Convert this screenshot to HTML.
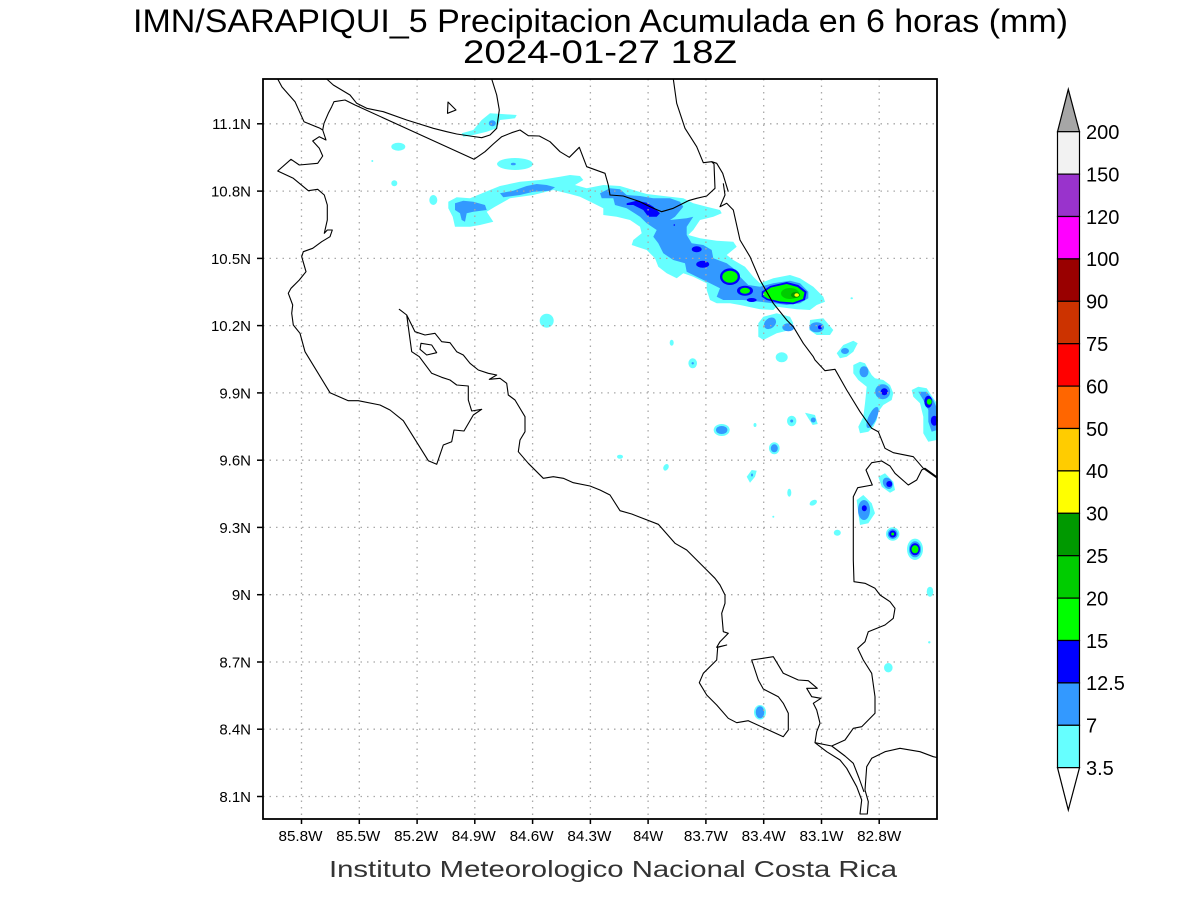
<!DOCTYPE html>
<html><head><meta charset="utf-8"><style>
html,body{margin:0;padding:0;background:#fff;}
svg{display:block;}
text{font-family:"Liberation Sans",sans-serif;}
</style></head><body>
<svg width="1200" height="900" viewBox="0 0 1200 900" xmlns="http://www.w3.org/2000/svg">
<rect width="1200" height="900" fill="#fff"/>
<!-- Title -->
<text x="133" y="32" font-size="32" textLength="935" lengthAdjust="spacingAndGlyphs" fill="#000">IMN/SARAPIQUI_5 Precipitacion Acumulada en 6 horas (mm)</text>
<text x="463" y="63" font-size="32" textLength="274" lengthAdjust="spacingAndGlyphs" fill="#000">2024-01-27 18Z</text>

<!-- shading -->
<g stroke="none">
<!-- cyan -->
<g fill="#66ffff">
<polygon points="448.3,201.7 456.7,197.3 470,198.3 490,190 500,186 520,181.7 540,180 560,176.7 570,175 580,176 583.3,180 575,185 586.7,188.3 603.3,185 620,186 633.3,190 646.7,194 670,196.7 683.3,198.3 693.3,203.3 706.7,206.7 720,210 721.7,213.3 713.3,216.7 700,220 693.3,230 688.3,235 700,238.3 716.7,240.7 733.3,241.7 736.7,246.7 726.7,255 733.3,260 745,266.7 753.3,276.7 760,283.3 773.3,278.3 790,275 800,278.3 813.3,286.7 823.3,296.7 825,301.7 816.7,305 810,310 796.7,309.3 776.7,306.7 773.3,310 760,309.3 740,305 730,303.3 716.7,303.3 710,300 706.7,290 706.7,283.3 693.3,276.7 683.3,273.3 676.7,278.3 666.7,273.3 658.3,266.7 655,258.3 646.7,250 631.7,245 633.3,240 641.7,233.3 640,226.7 630,220 616.7,216.7 603.3,215 603.3,208.3 593.3,203.3 580,196.7 570,194 553.3,190 533.3,195 510,198.3 495,206.7 486.7,211.7 493.3,221.7 480,225 470,226.7 455,226.7 452.7,216.7 448.3,208.3"/>
<polygon points="461.7,133.3 473.3,130 481.7,120 490,113.3 501.7,114 516.7,115 515,118.3 500,120 496.7,128.3 486.7,131.7 473.3,135 463.3,136.7"/>
<ellipse cx="398.3" cy="146.7" rx="7" ry="4"/>
<ellipse cx="515" cy="164" rx="18" ry="6"/>
<ellipse cx="372.3" cy="161" rx="1" ry="1"/>
<ellipse cx="394.3" cy="183.3" rx="3" ry="3"/>
<ellipse cx="433.3" cy="200" rx="4" ry="5"/>
<ellipse cx="546.7" cy="320.7" rx="7" ry="7"/>
<polygon points="758.3,323.3 763.3,316.7 776.7,313.3 790,316.7 793.3,323.3 790,330 776.7,333.3 763.3,340 758.3,336.7"/>
<polygon points="810,320 823.3,318.3 833.3,330 830,335 816.7,335 809.3,330"/>
<polygon points="836.7,353.3 843.3,345 853.3,340.7 857.7,343.3 853.3,351.7 846.7,356.7 840,358.3"/>
<ellipse cx="781.7" cy="357.3" rx="6" ry="5"/>
<ellipse cx="692.7" cy="363.3" rx="4.3" ry="5"/>
<ellipse cx="671.7" cy="342.7" rx="2" ry="3"/>
<ellipse cx="851.7" cy="298.3" rx="1.2" ry="1"/>
<polygon points="853.3,365 860,361.7 865,363.3 871.7,375 875,378.3 883.3,380 890,385 893.3,393.3 891.7,400 883.3,405 878.3,411.7 876.7,420 873.3,426.7 868.3,431.7 860,433.3 858.3,426.7 863.3,416.7 865,403.3 866.7,386.7 858.3,380 853.3,373.3"/>
<polygon points="911.7,390 918.3,386.7 926.7,388.3 933.3,398.3 937,403.3 937,440 928.3,441.7 923.3,433.3 923.3,416.7 920,403.3 913.3,396.7"/>
<ellipse cx="721.7" cy="430" rx="8" ry="6"/>
<ellipse cx="755" cy="425" rx="1.5" ry="2"/>
<ellipse cx="791.7" cy="421" rx="4.7" ry="5.3"/>
<polygon points="805,412.7 815,415 817.7,424 812.7,425 808.3,418.3"/>
<ellipse cx="774.3" cy="448.3" rx="5.3" ry="6"/>
<polygon points="746.7,476.7 751.7,470 756.7,470.7 755,476.7 750,482.7"/>
<ellipse cx="620" cy="456.7" rx="3" ry="2"/>
<ellipse cx="666" cy="467.3" rx="2.5" ry="3.5" transform="rotate(30 666 467.3)"/>
<ellipse cx="789.3" cy="492.7" rx="2" ry="4"/>
<ellipse cx="813.3" cy="502.7" rx="4" ry="2.5" transform="rotate(-30 813.3 502.7)"/>
<ellipse cx="773.3" cy="516.7" rx="1" ry="1"/>
<ellipse cx="837.3" cy="532.7" rx="3.5" ry="3"/>
<polygon points="878.3,476.7 885,473.3 893.3,481.7 895,490 890,492.7 881.7,486.7"/>
<polygon points="856.7,500 863.3,495 871.7,503.3 875,513.3 868.3,523.3 860,525 858.3,513.3"/>
<ellipse cx="892.7" cy="534" rx="6.7" ry="6.7"/>
<ellipse cx="915" cy="549.3" rx="8" ry="10.7"/>
<ellipse cx="930" cy="591.7" rx="3.3" ry="5"/>
<ellipse cx="929.3" cy="642.3" rx="1.2" ry="1.2"/>
<ellipse cx="888.3" cy="667.7" rx="4.3" ry="4.7"/>
<ellipse cx="760" cy="712.3" rx="6" ry="7.3"/>
</g>
<!-- blue 7-12.5 -->
<g fill="#3399ff">
<ellipse cx="492.3" cy="123.3" rx="3.5" ry="3"/>
<ellipse cx="513.3" cy="164" rx="2.5" ry="1.3"/>
<polygon points="455,203.3 463.3,200.7 473.3,201.7 485,205 486.7,210 473.3,211.7 466.7,213.3 465,221.7 461.7,220 460,213.3 455,210"/>
<polygon points="500,193.3 513.3,190.7 526.7,186 536.7,184 546.7,185 555,187.3 550,190.7 533.3,191.7 520,195 503.3,197.3"/>
<polygon points="600,193.3 610,188.3 620,189.3 626.7,195 640,196 653.3,198.3 670,198.3 680,201.7 683.3,206.7 675,216.7 670,220 686.7,218.3 693.3,216.7 686.7,226.7 686.7,235 691.7,243.3 703.3,245 711.7,250 713.3,258.3 726.7,263.3 733.3,268.3 740,276.7 748.3,285 760,286.7 773.3,283.3 790,280.7 800,283.3 808.3,291.7 808.3,298.3 800,303.3 786.7,305 773.3,303.3 760,301.7 743.3,300 723.3,300 716.7,296.7 720,288.3 710,283.3 696.7,276.7 686.7,271.7 685,263.3 673.3,260 663.3,253.3 658.3,243.3 653.3,236.7 656.7,230 646.7,223.3 640,216.7 626.7,208.3 615,205 613.3,198.3 601.7,198.3"/>
<ellipse cx="770" cy="323.3" rx="6.7" ry="5" transform="rotate(-40 770 323.3)"/>
<ellipse cx="788.3" cy="327.3" rx="6" ry="4"/>
<ellipse cx="816.7" cy="327.3" rx="7.3" ry="5"/>
<ellipse cx="845" cy="351" rx="4" ry="3"/>
<ellipse cx="692.7" cy="363.3" rx="1.2" ry="1.2"/>
<ellipse cx="864" cy="371.7" rx="4.5" ry="5.5"/>
<ellipse cx="882.7" cy="391.7" rx="7.5" ry="7.5"/>
<ellipse cx="872.5" cy="417.5" rx="4" ry="11.5" transform="rotate(25 872.5 417.5)"/>
<polygon points="918.3,391.7 926.7,391.7 933.3,400 937,408.3 937,430 931.7,431.7 928.3,421.7 928.3,410 923.3,400"/>
<ellipse cx="721.7" cy="430" rx="5.7" ry="4"/>
<ellipse cx="791.7" cy="421" rx="1.5" ry="1.5"/>
<ellipse cx="813.3" cy="420" rx="2.5" ry="2.5"/>
<ellipse cx="774.3" cy="448.3" rx="3.5" ry="4"/>
<ellipse cx="752" cy="475" rx="1" ry="1.5"/>
<ellipse cx="887.7" cy="483.3" rx="4.5" ry="6" transform="rotate(-30 887.7 483.3)"/>
<ellipse cx="864" cy="510" rx="6" ry="10"/>
<ellipse cx="892.7" cy="534" rx="5" ry="5"/>
<ellipse cx="915" cy="549.3" rx="6" ry="8"/>
<ellipse cx="760" cy="712.3" rx="4.3" ry="6"/>
</g>
<!-- dark blue 12.5-15 -->
<g fill="#0000ff">
<polygon points="626.7,203.3 636.7,200.7 646.7,202.7 653.3,206.7 660,213.3 656.7,216.7 648.3,216.7 643.3,210 633.3,205 626.7,205"/>
<ellipse cx="674.3" cy="225" rx="0.8" ry="0.8"/>
<ellipse cx="696.7" cy="249.3" rx="5" ry="3"/>
<ellipse cx="702.7" cy="264.3" rx="6.5" ry="3.5"/>
<ellipse cx="730" cy="276.7" rx="10" ry="8.3"/>
<ellipse cx="745" cy="290.7" rx="8" ry="5"/>
<ellipse cx="751.7" cy="300" rx="5" ry="2"/>
<polygon points="761.7,291.7 770,286 786.7,282 798.3,285 806.7,291.7 805,300 793.3,304.3 780,303.3 766.7,300 761.7,296.7"/>
<ellipse cx="820" cy="327.3" rx="2" ry="2"/>
<ellipse cx="884.3" cy="391.7" rx="3.5" ry="3.5"/>
<ellipse cx="928.3" cy="401.7" rx="4" ry="6"/>
<ellipse cx="934.3" cy="420.7" rx="3.5" ry="5"/>
<ellipse cx="889.3" cy="484" rx="3" ry="3"/>
<ellipse cx="864.3" cy="508.3" rx="2.5" ry="3"/>
<ellipse cx="892.7" cy="534" rx="3.5" ry="3.5"/>
<ellipse cx="915" cy="549.3" rx="5" ry="6"/>
</g>
<!-- greens -->
<g fill="#00ff00">
<ellipse cx="730" cy="276.7" rx="7.7" ry="6"/>
<ellipse cx="745" cy="290.7" rx="5" ry="3"/>
<polygon points="763.5,292.5 771,287.5 786.7,284 797.5,287 804.5,292.5 803,299 793,302.5 780,301.5 767.5,298.5 763.5,296"/>
<ellipse cx="929.3" cy="401.7" rx="2.5" ry="3"/>
<ellipse cx="892.7" cy="534" rx="1.5" ry="1.5"/>
<ellipse cx="915" cy="549.3" rx="3.5" ry="4"/>
</g>
<ellipse cx="790" cy="293.5" rx="9" ry="5.5" fill="#00cc00"/>
<ellipse cx="795.5" cy="295" rx="4.5" ry="3" fill="#009900"/>
<ellipse cx="796.7" cy="295" rx="2.3" ry="1.8" fill="#ffff00"/>
</g>

<!-- grid -->
<g stroke="#a8a8a8" stroke-width="1.3" stroke-dasharray="1.5 5" fill="none">
<line x1="263" y1="123.8" x2="937" y2="123.8"/>
<line x1="263" y1="191.1" x2="937" y2="191.1"/>
<line x1="263" y1="258.4" x2="937" y2="258.4"/>
<line x1="263" y1="325.6" x2="937" y2="325.6"/>
<line x1="263" y1="392.9" x2="937" y2="392.9"/>
<line x1="263" y1="460.2" x2="937" y2="460.2"/>
<line x1="263" y1="527.4" x2="937" y2="527.4"/>
<line x1="263" y1="594.7" x2="937" y2="594.7"/>
<line x1="263" y1="662" x2="937" y2="662"/>
<line x1="263" y1="729.2" x2="937" y2="729.2"/>
<line x1="263" y1="796.5" x2="937" y2="796.5"/>
<line x1="301.5" y1="79" x2="301.5" y2="819"/>
<line x1="359.3" y1="79" x2="359.3" y2="819"/>
<line x1="417.1" y1="79" x2="417.1" y2="819"/>
<line x1="474.8" y1="79" x2="474.8" y2="819"/>
<line x1="532.6" y1="79" x2="532.6" y2="819"/>
<line x1="590.4" y1="79" x2="590.4" y2="819"/>
<line x1="648.1" y1="79" x2="648.1" y2="819"/>
<line x1="705.9" y1="79" x2="705.9" y2="819"/>
<line x1="763.7" y1="79" x2="763.7" y2="819"/>
<line x1="821.5" y1="79" x2="821.5" y2="819"/>
<line x1="879.2" y1="79" x2="879.2" y2="819"/>
</g>

<!-- coastlines -->
<g stroke="#000" stroke-width="1.1" fill="none" stroke-linejoin="round">
<polyline points="277.7,79 282,87 295,101.7 304,121.7 320,128.3 322.7,130 326,140 319.3,136.7 312.7,141 319.3,148.3 322.7,156 317.7,163.3 299.3,165 291,159.3 277.7,171 293.3,178.3 308.3,190.7 317.7,189.3 324.3,195 327.3,205 327.3,220 324.3,233.3 327.3,230 332.3,230 330,236.7 321.7,241.7 312.7,248.3 303.3,251.7 301.7,256.7 306,271.7 299.3,280 291,288.3 288.3,293.3 292.7,305 291.7,313.3 293.3,325 300,333.3 305,351.7 330,392.7 348.3,400.7 358.3,400.7 380,405 390,410 403.3,420.7 428.3,460.7 436.7,464.3 443.3,445 451.7,441.7 454,430 464,431 473.3,415 481.7,409.3 471.7,411 468.3,400 468.3,386 456.7,385 450,380 441.7,377.3 431.7,373.3 419.3,356.7 411.7,351.7 406.7,315 399.3,309.3 406.7,315 415,331.7 425,335 435,333.3 441.7,341.7 450,342.7 456.7,351.7 463.3,355 470,363.3 478.3,370 488.3,373.3 496.7,375 489.3,379.3 500,378.3 506.7,383.3 508.3,395 515,400 525,416.7 525,431.7 520,440 518.3,451.7 528.3,463.3 543.3,478.3 553.3,476.7 563.3,478.3 573.3,482.7 590,486 600,490 610,495 620,510.7 631.7,514 658.3,524.3 675,543.3 686.7,550 696.7,560 706.7,570 715,578.3 720,585 725,595 725,603.3 721.7,613.3 723.3,631.7 728.3,633.3 720,641.7 716.7,647.3 726.7,645 717.7,647.3 716.7,660 703.3,673.3 699.3,682.7 706.7,695 716.7,705 728.3,718.3 736.7,722.7 748.3,720.7 783.3,736.7 788.3,730 788.3,713.3 783.3,703.3 778.3,696.7 763.3,689 758.3,680 751.7,660 773.3,656.7 783.3,673.3 798.3,680 808.3,680.7 817.3,688.3 806.7,688.3 811.7,696.7 821,698.3 813.3,703.3 816.7,710 820,723.3 816.7,731.7 815,742.7 826.7,751.7 840,760 846.7,768.3 856.7,786.7 861.7,800 860,814 867.3,814 868.3,801.7 865,790 866.7,766.7 871.7,758.3 885,751.7 900,748.3 920,751.7 933.3,756.7 937,757.5"/>
<polyline points="815,742.7 831.7,746 845,740 853.3,728.3 861.7,726.7 875,713.3 875,696.7 871.7,673.3 863.3,660 857.7,648.3 865,641.7 868.3,631.7 885,625 893.3,618.3 895,608.3 890,601.7 880,595 875,588.3 865,583.3 854,581.7 853.3,560 853.3,496.7 857.7,487.7 872.3,485 866,470 871.7,462.7 881.7,461 890,466 895,473.3 908.3,485 916.7,480 921.7,470 925,468.3 937,477"/>
<polyline points="831.7,746 845,756 853.3,763.3 859,778 864,792"/>
<polyline points="673.3,79 676.7,103.3 685,128.3 696.7,146.7 703.3,162.7 711.7,161.7 716.7,163.3 722.7,173.3 728.3,191.7"/>
<polyline points="723.3,183.3 725,195 720,206.7 726.7,203.3 733.3,210 740,240 750,256.7 760,280 773.3,303.3 786.7,320 793.3,326.7 803.3,343.3 813.3,356.7 815,360 825,370.7 835,369.3 846.7,390 860,411.7 871.7,428.3 878.3,431.7 885,448.3 893.3,452.7 913.3,456.7 923.3,468.3 937,478"/>
<polyline points="711.7,161.7 714,164 715,188.3 706.7,196 696.7,198.3 688.3,200.7 673.3,208.3 661.7,211.7 650,206.7 640,201.7 630,198.3 623.3,196 610,195 608.3,185 605,173.3 586.7,166.7 579.3,147.3 569.3,157.3 560,151.7 550,141.7 539.3,136 528.3,135.7 520,130 511.7,132.7 501.7,136.7 493.3,144 485,151.7 474,159.3 355,105 345,100 334,101.7 331.7,106.7 328.3,113.3 324,123.3 322.7,130"/>
<polyline points="326.7,79 333.3,85 350,95 356.7,103.3 366.7,108.3 383.3,111.7 406.7,120 433.3,128.3 446.7,131.7 456.7,134 470,136 481.7,137.7 490,135 496.7,128.3 499.3,110 496.7,95 491.7,79"/>
<polygon points="421,343.3 431.7,345 436.7,352.7 426.7,355 420,349.3"/>
<polygon points="448,102 456,110 447.5,113.3"/>
</g>

<!-- frame and ticks -->
<rect x="263" y="79" width="674" height="740" fill="none" stroke="#000" stroke-width="1.8"/>
<g stroke="#000" stroke-width="1.5">
<line x1="257" y1="123.8" x2="263" y2="123.8"/>
<line x1="257" y1="191.1" x2="263" y2="191.1"/>
<line x1="257" y1="258.4" x2="263" y2="258.4"/>
<line x1="257" y1="325.6" x2="263" y2="325.6"/>
<line x1="257" y1="392.9" x2="263" y2="392.9"/>
<line x1="257" y1="460.2" x2="263" y2="460.2"/>
<line x1="257" y1="527.4" x2="263" y2="527.4"/>
<line x1="257" y1="594.7" x2="263" y2="594.7"/>
<line x1="257" y1="662" x2="263" y2="662"/>
<line x1="257" y1="729.2" x2="263" y2="729.2"/>
<line x1="257" y1="796.5" x2="263" y2="796.5"/>
<line x1="301.5" y1="819" x2="301.5" y2="824"/>
<line x1="359.3" y1="819" x2="359.3" y2="824"/>
<line x1="417.1" y1="819" x2="417.1" y2="824"/>
<line x1="474.8" y1="819" x2="474.8" y2="824"/>
<line x1="532.6" y1="819" x2="532.6" y2="824"/>
<line x1="590.4" y1="819" x2="590.4" y2="824"/>
<line x1="648.1" y1="819" x2="648.1" y2="824"/>
<line x1="705.9" y1="819" x2="705.9" y2="824"/>
<line x1="763.7" y1="819" x2="763.7" y2="824"/>
<line x1="821.5" y1="819" x2="821.5" y2="824"/>
<line x1="879.2" y1="819" x2="879.2" y2="824"/>
</g>

<!-- y labels -->
<g font-size="15" fill="#000" text-anchor="end">
<text x="251" y="129.2">11.1N</text>
<text x="251" y="196.5">10.8N</text>
<text x="251" y="263.8">10.5N</text>
<text x="251" y="331">10.2N</text>
<text x="251" y="398.3">9.9N</text>
<text x="251" y="465.6">9.6N</text>
<text x="251" y="532.8">9.3N</text>
<text x="251" y="600.1">9N</text>
<text x="251" y="667.4">8.7N</text>
<text x="251" y="734.6">8.4N</text>
<text x="251" y="801.9">8.1N</text>
</g>
<!-- x labels -->
<g font-size="15" fill="#000">
<text x="278.5" y="841" textLength="44" lengthAdjust="spacingAndGlyphs">85.8W</text>
<text x="336.3" y="841" textLength="44" lengthAdjust="spacingAndGlyphs">85.5W</text>
<text x="394.1" y="841" textLength="44" lengthAdjust="spacingAndGlyphs">85.2W</text>
<text x="451.8" y="841" textLength="44" lengthAdjust="spacingAndGlyphs">84.9W</text>
<text x="509.6" y="841" textLength="44" lengthAdjust="spacingAndGlyphs">84.6W</text>
<text x="567.4" y="841" textLength="44" lengthAdjust="spacingAndGlyphs">84.3W</text>
<text x="633.1" y="841" textLength="30" lengthAdjust="spacingAndGlyphs">84W</text>
<text x="683.9" y="841" textLength="44" lengthAdjust="spacingAndGlyphs">83.7W</text>
<text x="741.7" y="841" textLength="44" lengthAdjust="spacingAndGlyphs">83.4W</text>
<text x="799.5" y="841" textLength="44" lengthAdjust="spacingAndGlyphs">83.1W</text>
<text x="857.2" y="841" textLength="44" lengthAdjust="spacingAndGlyphs">82.8W</text>
</g>

<text x="329" y="877" font-size="23" textLength="568" lengthAdjust="spacingAndGlyphs" fill="#333">Instituto Meteorologico Nacional Costa Rica</text>

<!-- colorbar -->
<g stroke="#000" stroke-width="1.2">
<polygon points="1057.5,131.7 1068.3,89.3 1079.5,131.7" fill="#a6a6a6"/>
<rect x="1057.5" y="131.7" width="22" height="42.4" fill="#f2f2f2"/>
<rect x="1057.5" y="174.1" width="22" height="42.4" fill="#9933cc"/>
<rect x="1057.5" y="216.5" width="22" height="42.4" fill="#ff00ff"/>
<rect x="1057.5" y="258.9" width="22" height="42.4" fill="#990000"/>
<rect x="1057.5" y="301.3" width="22" height="42.4" fill="#cc3300"/>
<rect x="1057.5" y="343.7" width="22" height="42.4" fill="#ff0000"/>
<rect x="1057.5" y="386.1" width="22" height="42.4" fill="#ff6600"/>
<rect x="1057.5" y="428.5" width="22" height="42.4" fill="#ffcc00"/>
<rect x="1057.5" y="470.9" width="22" height="42.4" fill="#ffff00"/>
<rect x="1057.5" y="513.3" width="22" height="42.4" fill="#009900"/>
<rect x="1057.5" y="555.7" width="22" height="42.4" fill="#00cc00"/>
<rect x="1057.5" y="598.1" width="22" height="42.4" fill="#00ff00"/>
<rect x="1057.5" y="640.5" width="22" height="42.4" fill="#0000ff"/>
<rect x="1057.5" y="682.9" width="22" height="42.4" fill="#3399ff"/>
<rect x="1057.5" y="725.3" width="22" height="42.4" fill="#66ffff"/>
<polygon points="1057.5,767.7 1068.3,810 1079.5,767.7" fill="#fff"/>
</g>
<g font-size="20" fill="#000">
<text x="1086" y="139">200</text>
<text x="1086" y="181.4">150</text>
<text x="1086" y="223.8">120</text>
<text x="1086" y="266.2">100</text>
<text x="1086" y="308.6">90</text>
<text x="1086" y="351">75</text>
<text x="1086" y="393.4">60</text>
<text x="1086" y="435.8">50</text>
<text x="1086" y="478.2">40</text>
<text x="1086" y="520.6">30</text>
<text x="1086" y="563">25</text>
<text x="1086" y="605.4">20</text>
<text x="1086" y="647.8">15</text>
<text x="1086" y="690.2">12.5</text>
<text x="1086" y="732.6">7</text>
<text x="1086" y="775">3.5</text>
</g>
</svg>
</body></html>
